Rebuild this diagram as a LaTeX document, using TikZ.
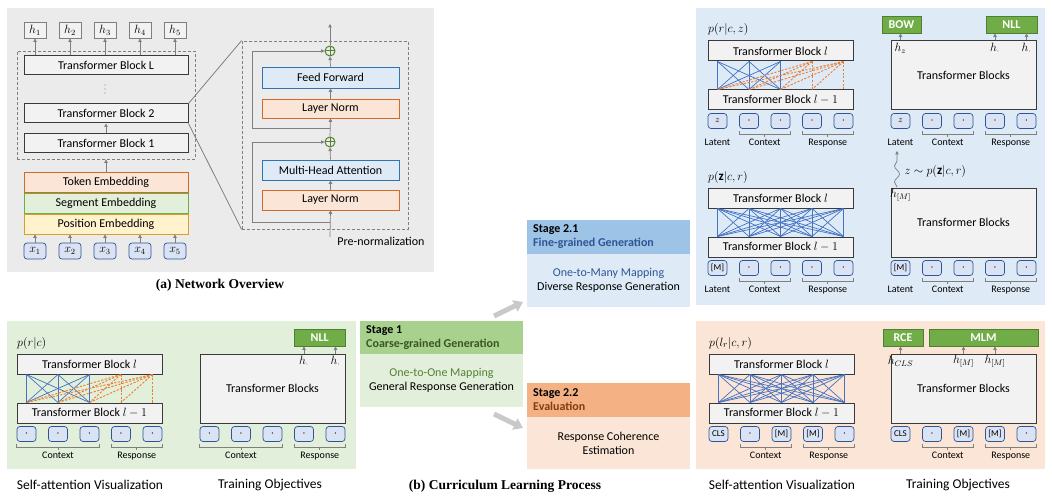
\documentclass[tikz,border=0pt]{standalone}
\usepackage{fontspec}
\setmainfont{Carlito}
\newfontfamily\capfont{Liberation Serif}
\usetikzlibrary{arrows.meta,decorations.pathmorphing,calc}
\definecolor{bga}{HTML}{EBEBEB}
\definecolor{bgg}{HTML}{E2EFDA}
\definecolor{bgb}{HTML}{DEEBF7}
\definecolor{bgo}{HTML}{FBE5D6}
\definecolor{tbfill}{HTML}{F2F2F2}
\definecolor{tbdraw}{HTML}{3A3A3A}
\definecolor{tokfill}{HTML}{DAE3F3}
\definecolor{tokdraw}{HTML}{2F5597}
\definecolor{arrgray}{HTML}{7F7F7F}
\definecolor{objfill}{HTML}{70AD47}
\definecolor{objdraw}{HTML}{507E32}
\definecolor{attb}{HTML}{4472C4}
\definecolor{atto}{HTML}{ED7D31}
\definecolor{ffill}{HTML}{DEEBF7}
\definecolor{fdraw}{HTML}{2E75B6}
\definecolor{lnfill}{HTML}{FBE5D6}
\definecolor{lndraw}{HTML}{D0692A}
\definecolor{segfill}{HTML}{E2EFDA}
\definecolor{segdraw}{HTML}{70AD47}
\definecolor{posfill}{HTML}{FFF2CC}
\definecolor{posdraw}{HTML}{D6A12B}
\definecolor{plusc}{HTML}{548235}
\definecolor{hdb}{HTML}{9DC3E6}
\definecolor{hdg}{HTML}{A9D18E}
\definecolor{hdo}{HTML}{F4B183}
\definecolor{txb}{HTML}{2F5597}
\definecolor{txg}{HTML}{385723}
\definecolor{txo}{HTML}{843C0C}
\definecolor{txgl}{HTML}{548235}
\definecolor{bigarr}{HTML}{C9C9C9}

\newcommand\dt{{\fontsize{13}{13}\selectfont$\cdot$}}
\newcommand\bx[7]{\node[#2, minimum width={(#5)-(#3)}, minimum height={(#6)-(#4)}, inner sep=0pt] (#1) at ({((#3)+(#5))/2},{((#4)+(#6))/2}) {#7};}
\newcommand\tokrow[4]{\foreach \t [count=\i] in {#4}{\node[tok] (#1\i) at ({(#2)+9.5+31.5*(\i-1)},{#3}) {\t};}}
\newcommand\brc[4]{%
  \draw[brc] ([yshift=-2pt]#2.south west) -- ([yshift=-5pt]#2.south west) -- ([yshift=-5pt]#3.south east) -- ([yshift=-2pt]#3.south east);
  \coordinate (#1m) at ($([yshift=-5pt]#2.south west)!0.5!([yshift=-5pt]#3.south east)$);
  \draw[brc] (#1m) -- ++(0,3);
  \node[lbl, anchor=north] (#1) at ([yshift=-2pt]#1m) {#4};}
\newcommand\leftstack[5]{%
  \node[anchor=base west, inner sep=0pt, font=\fontsize{13}{14}\selectfont] (#1p) at (#2,{(#3)-8}) {#4};
  \bx{#1l}{tb}{#2}{#3}{(#2)+145}{(#3)+20}{Transformer Block $l$}
  \bx{#1m}{tb}{#2}{(#3)+49}{(#2)+145}{(#3)+69}{Transformer Block $l-1$}
  \tokrow{#1t}{#2}{(#3)+80}{#5}}
\newcommand\rightstack[4]{%
  \bx{#1b}{tb}{#2}{#3}{(#2)+145}{(#3)+69}{Transformer Blocks}
  \tokrow{#1t}{#2}{(#3)+80}{#4}}
\newcommand\harr[5]{\draw[arr] (#1 |- #2.north) -- (#1 |- #3.south);
  \node[hl] (#4) at ($(#1 |- #2.north)+(0,8)$) {#5};}
\newcommand\causal[1]{%
  \foreach \i in {1,2,3}{\foreach \j in {1,2,3}{\draw[attnb] (#1t\i |- #1l.south) -- (#1t\j |- #1m.north);}}
  \foreach \i in {4,5}{\foreach \j in {1,...,\i}{\draw[attno] (#1t\i |- #1l.south) -- (#1t\j |- #1m.north);}}}
\newcommand\fullattn[1]{%
  \foreach \i in {1,...,5}{\foreach \j in {1,...,5}{\draw[attnb] (#1t\i |- #1l.south) -- (#1t\j |- #1m.north);}}}

\begin{document}
\begin{tikzpicture}[x=1pt,y=-1pt,
  font=\fontsize{12}{14}\selectfont,
  tb/.style={draw=tbdraw, fill=tbfill, line width=1pt, font=\fontsize{12}{14}\selectfont},
  tok/.style={draw=tokdraw, fill=tokfill, rounded corners=3pt, minimum width=19pt, minimum height=15pt, inner sep=0pt, line width=0.7pt, font=\fontsize{9}{10}\selectfont},
  xtok/.style={tok, minimum width=22pt, minimum height=16pt, font=\fontsize{11.5}{12}\selectfont},
  hbox/.style={draw=arrgray, fill=tbfill, line width=0.9pt, font=\fontsize{11.5}{12}\selectfont},
  arr/.style={draw=arrgray, line width=0.7pt, -{Triangle[length=3.5pt,width=3.5pt]}},
  obj/.style={draw=objdraw, fill=objfill, text=white, line width=0.8pt, font=\bfseries\fontsize{12}{14}\selectfont},
  lbl/.style={font=\fontsize{10}{12}\selectfont},
  hl/.style={font=\fontsize{11.5}{12}\selectfont, inner sep=0pt},
  attnb/.style={draw=attb, line width=0.7pt},
  attno/.style={draw=atto, line width=0.9pt, dash pattern=on 2.2pt off 1.5pt},
  brc/.style={draw=arrgray, line width=0.6pt},
  dashbox/.style={draw=arrgray, line width=0.8pt, dash pattern=on 3pt off 2pt},
  ffbox/.style={draw=fdraw, fill=ffill, line width=0.8pt},
  lnbox/.style={draw=lndraw, fill=lnfill, line width=0.8pt},
  segbox/.style={draw=segdraw, fill=segfill, line width=0.8pt},
  posbox/.style={draw=posdraw, fill=posfill, line width=0.8pt},
  plus/.style={circle, draw=plusc, line width=1pt, minimum size=10pt, inner sep=0pt,
    path picture={\draw[plusc, line width=1pt] (path picture bounding box.north) -- (path picture bounding box.south) (path picture bounding box.west) -- (path picture bounding box.east);}},
  captxt/.style={font=\capfont\bfseries\fontsize{13.5}{15}\selectfont},
  subcap/.style={font=\fontsize{13.5}{15}\selectfont},
  stagehd/.style={anchor=west, align=left, inner sep=0pt, font=\bfseries\fontsize{12}{14}\selectfont},
  stagebd/.style={align=center, font=\fontsize{12}{14}\selectfont},
  bigarrow/.style={draw=bigarr, line width=5pt, -{Triangle[length=9pt,width=12pt]}}
]
\useasboundingbox (0,0) rectangle (1052,500);

% ---------------- (a) Network overview ----------------
\bx{pa}{fill=bga}{7}{8}{434}{272}{}
\foreach \i in {1,...,5}{
  \bx{h\i}{hbox}{35*\i-11}{22}{35*\i+11}{38}{$h_{\i}$}
  \bx{x\i}{xtok}{35*\i-11}{243}{35*\i+11}{259}{$x_{\i}$}
}
\bx{dA}{dashbox}{17}{51}{195}{159}{}
\bx{tbL}{tb}{24}{56}{188}{75}{Transformer Block L}
\foreach \k in {85,89,93}{\fill[arrgray] (105,\k) circle (0.7pt);}
\bx{tb2}{tb}{24}{104}{188}{123}{Transformer Block 2}
\bx{tb1}{tb}{24}{134}{188}{153}{Transformer Block 1}
\bx{te}{lnbox}{24}{172}{188}{192}{Token Embedding}
\bx{se}{segbox}{24}{193}{188}{213}{Segment Embedding}
\bx{pe}{posbox}{24}{214}{188}{234}{Position Embedding}
\foreach \i in {1,...,5}{
  \draw[arr] (h\i |- tbL.north) -- (h\i.south);
  \draw[arr] (x\i.north) -- (x\i |- pe.south);
}
\draw[arr] (tb1.north) -- (tb2.south);
\draw[arr] (te.north) -- (te.north |- dA.south);

\bx{dB}{dashbox}{242}{41}{408}{229}{}
\draw[arrgray, line width=0.8pt] (tb2.north east) -- (dB.north west);
\draw[arrgray, line width=0.8pt] (tb2.south east) -- (dB.south west);
\bx{ff}{ffbox}{262}{67}{399}{88}{Feed Forward}
\bx{ln2}{lnbox}{262}{99}{399}{118}{Layer Norm}
\bx{mha}{ffbox}{262}{160}{399}{180}{Multi-Head Attention}
\bx{ln1}{lnbox}{262}{190}{399}{210}{Layer Norm}
\node[plus] (p1) at (330,142) {};
\node[plus] (p2) at (330,51) {};
\coordinate (in) at (330,237);
\coordinate (out) at (330,24);
\coordinate (r1) at (330,222);
\coordinate (r2) at (330,128);
\draw[arr] (in) -- (ln1.south);
\draw[arr] (ln1.north) -- (mha.south);
\draw[arr] (mha.north) -- (p1.south);
\draw[arr] (p1.north) -- (ln2.south);
\draw[arr] (ln2.north) -- (ff.south);
\draw[arr] (ff.north) -- (p2.south);
\draw[arr] (p2.north) -- (out);
\draw[arr] (r1) -- ++(-78,0) |- (p1.west);
\draw[arr] (r2) -- ++(-78,0) |- (p2.west);
\node (pn) at (381,241) {Pre-normalization};
\node[captxt] (capa) at (220,285) {(a) Network Overview};

% ---------------- panels ----------------
\bx{pg}{fill=bgg}{7}{321}{356}{469}{}
\bx{pb}{fill=bgb}{696}{8}{1045}{305}{}
\bx{po}{fill=bgo}{696}{321}{1045}{469}{}

% ---------------- green: stage 1 ----------------
\leftstack{g}{17}{354}{$p(r|c)$}{\dt,\dt,\dt,\dt,\dt}
\causal{g}
\brc{gctx}{gt1}{gt3}{Context}
\brc{grsp}{gt4}{gt5}{Response}
\rightstack{G}{200}{354}{\dt,\dt,\dt,\dt,\dt}
\bx{GN}{obj}{294.5}{329}{345}{346}{NLL}
\harr{Gt4}{Gb}{GN}{Gh4}{$h_{\cdot}$}
\harr{Gt5}{Gb}{GN}{Gh5}{$h_{\cdot}$}
\brc{Gctx}{Gt1}{Gt3}{Context}
\brc{Grsp}{Gt4}{Gt5}{Response}
\node[subcap] (gsa) at (90,485) {Self-attention Visualization};
\node[subcap] (gto) at (270,485) {Training Objectives};

% ---------------- blue top ----------------
\leftstack{b}{708}{41}{$p(r|c,z)$}{$z$,\dt,\dt,\dt,\dt}
\causal{b}
\brc{bctx}{bt2}{bt3}{Context}
\brc{brsp}{bt4}{bt5}{Response}
\node[lbl] (blat) at (bt1 |- bctx) {Latent};
\rightstack{B}{891}{41}{$z$,\dt,\dt,\dt,\dt}
\bx{BW}{obj}{882}{16}{921}{33}{BOW}
\bx{BN}{obj}{986}{16}{1037}{33}{NLL}
\harr{Bt1}{Bb}{BW}{Bh1}{$h_z$}
\harr{Bt4}{Bb}{BN}{Bh4}{$h_{\cdot}$}
\harr{Bt5}{Bb}{BN}{Bh5}{$h_{\cdot}$}
\brc{Bctx}{Bt2}{Bt3}{Context}
\brc{Brsp}{Bt4}{Bt5}{Response}
\node[lbl] (Blat) at (Bt1 |- Bctx) {Latent};

% ---------------- blue bottom ----------------
\leftstack{c}{708}{188}{$p(\mathbf{z}|c,r)$}{{[M]},\dt,\dt,\dt,\dt}
\fullattn{c}
\brc{cctx}{ct2}{ct3}{Context}
\brc{crsp}{ct4}{ct5}{Response}
\node[lbl] (clat) at (ct1 |- cctx) {Latent};
\rightstack{C}{891}{188}{{[M]},\dt,\dt,\dt,\dt}
\node[hl] (Ch1) at ($(Ct1 |- Cb.north)+(0,8)$) {$h_{[M]}$};
\brc{Cctx}{Ct2}{Ct3}{Context}
\brc{Crsp}{Ct4}{Ct5}{Response}
\node[lbl] (Clat) at (Ct1 |- Cctx) {Latent};
\coordinate (sq1) at (897,187);
\coordinate (sq2) at (897,151);
\draw[arr, decorate, decoration={snake, amplitude=2.5pt, segment length=16pt, post length=4pt}] (sq1) -- (sq2);
\node[anchor=west, font=\fontsize{13}{14}\selectfont] (zs) at (901,172) {$z\sim p(\mathbf{z}|c,r)$};

% ---------------- orange ----------------
\leftstack{o}{709}{354}{$p(l_r|c,r)$}{CLS,\dt,{[M]},{[M]},\dt}
\fullattn{o}
\brc{octx}{ot2}{ot3}{Context}
\brc{orsp}{ot4}{ot5}{Response}
\rightstack{O}{891}{354}{CLS,\dt,{[M]},{[M]},\dt}
\bx{OR}{obj}{883}{329}{923}{346}{RCE}
\bx{OM}{obj}{929}{329}{1038}{346}{MLM}
\harr{Ot1}{Ob}{OR}{Oh1}{$h_{CLS}$}
\harr{Ot3}{Ob}{OM}{Oh3}{$h_{[M]}$}
\harr{Ot4}{Ob}{OM}{Oh4}{$h_{[M]}$}
\brc{Octx}{Ot2}{Ot3}{Context}
\brc{Orsp}{Ot4}{Ot5}{Response}
\node[subcap] (osa) at (782,485) {Self-attention Visualization};
\node[subcap] (oto) at (958,485) {Training Objectives};

% ---------------- stages ----------------
\bx{s21h}{fill=hdb}{527}{220}{690}{254}{}
\bx{s21b}{fill=bgb}{527}{254}{690}{307}{}
\node[stagehd] (s21t) at (533,237) {Stage 2.1\\\textcolor{txb}{Fine-grained Generation}};
\node[stagebd] (s21x) at (s21b) {\textcolor{txb}{One-to-Many Mapping}\\Diverse Response Generation};

\bx{s1h}{fill=hdg}{360}{321}{523}{354}{}
\bx{s1b}{fill=bgg}{360}{354}{523}{407}{}
\node[stagehd] (s1t) at (366,338) {Stage 1\\\textcolor{txg}{Coarse-grained Generation}};
\node[stagebd] (s1x) at (s1b) {\textcolor{txgl}{One-to-One Mapping}\\General Response Generation};

\bx{s22h}{fill=hdo}{527}{383}{690}{417}{}
\bx{s22b}{fill=bgo}{527}{417}{690}{469}{}
\node[stagehd] (s22t) at (533,400) {Stage 2.2\\\textcolor{txo}{Evaluation}};
\node[stagebd] (s22x) at (s22b) {Response Coherence\\Estimation};

\coordinate (ga1) at (494,316);
\coordinate (gb1) at (523,302);
\coordinate (ga2) at (494,414);
\coordinate (gb2) at (523,428);
\draw[bigarrow] (ga1) -- (gb1);
\draw[bigarrow] (ga2) -- (gb2);
\node[captxt] (capb) at (505,486) {(b) Curriculum Learning Process};
\end{tikzpicture}
\end{document}
